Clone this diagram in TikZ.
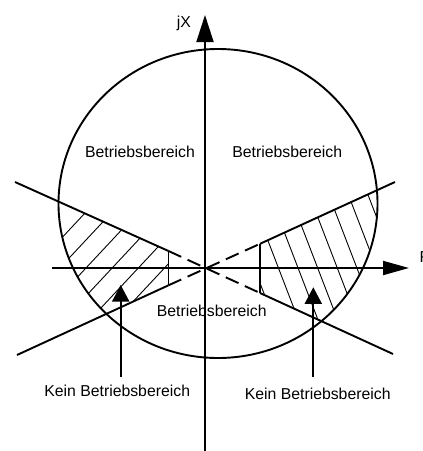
\documentclass[tikz,border=0pt]{standalone}
\usepackage{fontspec}
\setmainfont{Liberation Sans}
\usetikzlibrary{arrows.meta}
\begin{document}
\begin{tikzpicture}[x=1pt,y=-1pt,
  thickline/.style={line width=1.9pt},
  hatchline/.style={line width=0.9pt},
  dashline/.style={line width=1.9pt, dash pattern=on 14pt off 7pt},
  vaxis/.style={line width=1.9pt,-{Triangle[length=27pt,width=17pt]}},
  haxis/.style={line width=1.9pt,-{Triangle[length=26pt,width=14pt]}},
  pointer/.style={line width=1.9pt,-{Triangle[length=16.5pt,width=17pt]}},
  lbl/.style={font=\fontsize{15.8}{18}\selectfont, inner sep=0pt, anchor=base}]
\useasboundingbox (0,0) rectangle (423,451);
% key points
\coordinate (O) at (205,268);
\coordinate (Al) at (15,182);
\coordinate (Ar) at (393,354);
\coordinate (A1) at (168.5,251);
\coordinate (A2) at (260,293);
\coordinate (Bl) at (17,355);
\coordinate (Br) at (395,182);
\coordinate (B1) at (168.5,285.3);
\coordinate (B2) at (260,243.8);
% hatching left
\begin{scope}
  \clip (218,203.5) ellipse [x radius=159.5, y radius=154.5];
  \clip (A1) -- (Al) -- (Bl) -- (B1) -- cycle;
  \foreach \c in {304,332,360,388,416,444}
    \draw[hatchline] (40,{\c-1.07*40}) -- (180,{\c-1.07*180});
\end{scope}
% hatching right
\begin{scope}
  \clip (218,203.5) ellipse [x radius=159.5, y radius=154.5];
  \clip (B2) -- (Br) -- (Ar) -- (A2) -- cycle;
  \foreach \d in {393,456,507,558,609,660,711,762}
    \draw[hatchline] ({(150+\d)/2.6},150) -- ({(340+\d)/2.6},340);
\end{scope}
% circle
\node[draw=none, inner sep=0pt, minimum size=0pt] (C) at (218,203.5) {};
\draw[thickline] (C) ellipse [x radius=159.5, y radius=154.5];
% lines
\draw[thickline] (Al) -- (A1);
\draw[dashline] (A1) -- (A2);
\draw[thickline] (A2) -- (Ar);
\draw[thickline] (Bl) -- (B1);
\draw[dashline] (B1) -- (B2);
\draw[thickline] (B2) -- (Br);
\draw[thickline] (A1) -- (B1);
\draw[thickline] (B2) -- (A2);
% labels
\node[lbl] (b1) at (140,157) {Betriebsbereich};
\node[lbl] (b2) at (287.3,157) {Betriebsbereich};
\node[lbl] (b3) at (211.7,316) {Betriebsbereich};
\node[lbl] (k1) at (117.2,396) {Kein Betriebsbereich};
\node[lbl] (k2) at (317.7,399.3) {Kein Betriebsbereich};
\node[lbl] (jx) at (184,27.5) {jX};
\node[lbl, anchor=base west] (R) at (419.5,262) {R};
% axes
\coordinate (xs) at (52,268);
\coordinate (xe) at (409,268);
\coordinate (ys) at (205,451);
\coordinate (ye) at (205,15);
\draw[haxis] (xs) -- (xe);
\draw[vaxis] (ys) -- (ye);
% pointers
\coordinate (p1s) at (120.7,377);
\coordinate (p1t) at (120.7,285);
\coordinate (p2s) at (313.3,377);
\coordinate (p2t) at (313.3,287.3);
\draw[pointer] (p1s) -- (p1t);
\draw[pointer] (p2s) -- (p2t);
\end{tikzpicture}
\end{document}
